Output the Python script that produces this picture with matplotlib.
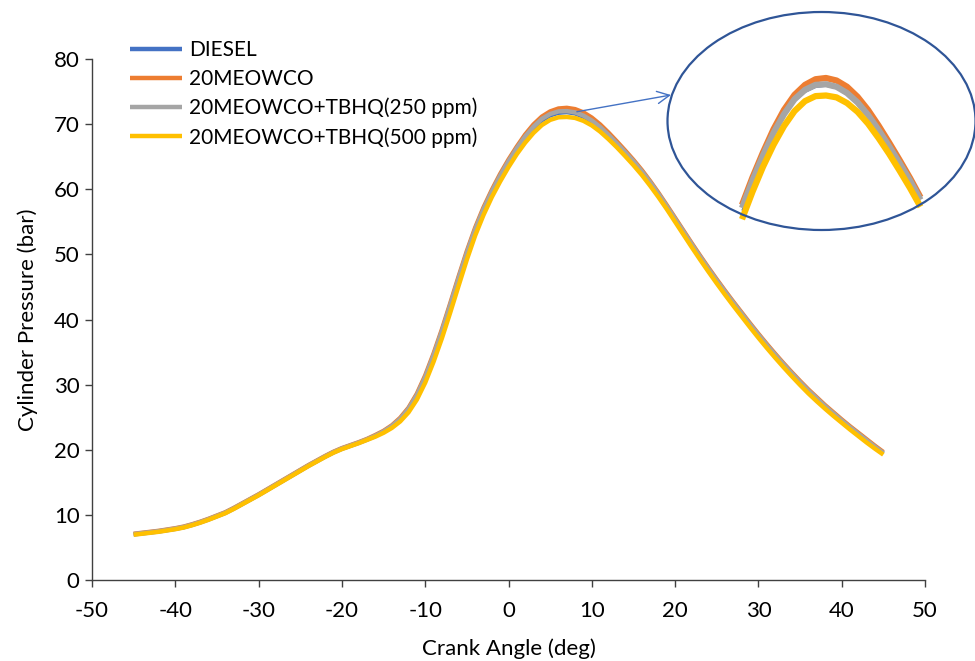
import matplotlib
matplotlib.use("Agg")
import matplotlib.pyplot as plt
from matplotlib.patches import Ellipse

plt.rcParams['font.family'] = ['Lato', 'DejaVu Sans']

crank_angle = list(range(-45, 46))

diesel = [7.00, 7.15, 7.30, 7.45, 7.65, 7.85, 8.10, 8.45, 8.85, 9.30,
          9.80, 10.30, 10.95, 11.65, 12.35, 13.05, 13.80, 14.55, 15.30, 16.05,
          16.80, 17.55, 18.25, 18.95, 19.60, 20.15, 20.60, 21.05, 21.55, 22.10,
          22.75, 23.55, 24.65, 26.15, 28.25, 31.00, 34.30, 38.00, 42.00, 46.10,
          50.10, 53.70, 56.80, 59.50, 61.90, 64.10, 66.10, 67.90, 69.40, 70.60,
          71.35, 71.75, 71.85, 71.65, 71.15, 70.40, 69.35, 68.15, 66.85, 65.50,
          64.10, 62.55, 60.90, 59.10, 57.20, 55.25, 53.30, 51.35, 49.45, 47.60,
          45.80, 44.05, 42.35, 40.70, 39.05, 37.45, 35.90, 34.40, 32.95, 31.55,
          30.20, 28.90, 27.70, 26.50, 25.40, 24.35, 23.30, 22.30, 21.30, 20.35,
          19.40]

meowco = [7.10, 7.25, 7.40, 7.55, 7.75, 7.95, 8.20, 8.55, 8.95, 9.40,
          9.90, 10.40, 11.05, 11.75, 12.45, 13.15, 13.90, 14.65, 15.40, 16.15,
          16.90, 17.65, 18.35, 19.05, 19.70, 20.25, 20.70, 21.15, 21.65, 22.25,
          22.90, 23.75, 24.90, 26.45, 28.60, 31.40, 34.75, 38.45, 42.45, 46.55,
          50.50, 54.10, 57.20, 59.90, 62.35, 64.55, 66.55, 68.40, 69.95, 71.15,
          71.95, 72.40, 72.50, 72.30, 71.80, 71.00, 69.95, 68.70, 67.35, 65.95,
          64.50, 62.95, 61.25, 59.45, 57.55, 55.60, 53.65, 51.70, 49.80, 47.95,
          46.15, 44.40, 42.70, 41.05, 39.40, 37.80, 36.25, 34.75, 33.30, 31.90,
          30.55, 29.25, 28.05, 26.85, 25.75, 24.65, 23.60, 22.60, 21.60, 20.60,
          19.65]

tbhq250 = [7.05, 7.20, 7.35, 7.50, 7.70, 7.90, 8.15, 8.50, 8.90, 9.35,
           9.85, 10.35, 11.00, 11.70, 12.40, 13.10, 13.85, 14.60, 15.35, 16.10,
           16.85, 17.60, 18.30, 19.00, 19.65, 20.20, 20.65, 21.10, 21.60, 22.15,
           22.80, 23.65, 24.75, 26.30, 28.40, 31.15, 34.50, 38.20, 42.20, 46.30,
           50.25, 53.85, 56.95, 59.65, 62.10, 64.30, 66.30, 68.10, 69.60, 70.80,
           71.55, 71.95, 72.00, 71.80, 71.30, 70.55, 69.55, 68.35, 67.05, 65.70,
           64.30, 62.75, 61.10, 59.30, 57.40, 55.45, 53.50, 51.55, 49.65, 47.80,
           46.00, 44.25, 42.55, 40.90, 39.25, 37.65, 36.10, 34.60, 33.15, 31.75,
           30.40, 29.10, 27.90, 26.70, 25.60, 24.50, 23.45, 22.45, 21.45, 20.45,
           19.50]

tbhq500 = [6.95, 7.10, 7.25, 7.40, 7.60, 7.80, 8.05, 8.40, 8.80, 9.25,
           9.75, 10.25, 10.90, 11.60, 12.30, 13.00, 13.75, 14.50, 15.25, 16.00,
           16.75, 17.50, 18.20, 18.90, 19.55, 20.10, 20.55, 21.00, 21.50, 22.00,
           22.60, 23.35, 24.35, 25.75, 27.70, 30.30, 33.50, 37.10, 41.05, 45.15,
           49.20, 52.90, 56.05, 58.80, 61.20, 63.40, 65.40, 67.15, 68.65, 69.85,
           70.65, 71.05, 71.10, 70.95, 70.50, 69.80, 68.85, 67.70, 66.45, 65.10,
           63.70, 62.20, 60.55, 58.80, 56.95, 55.00, 53.05, 51.10, 49.20, 47.35,
           45.55, 43.80, 42.10, 40.45, 38.80, 37.20, 35.65, 34.15, 32.70, 31.30,
           29.95, 28.65, 27.45, 26.30, 25.20, 24.15, 23.10, 22.10, 21.10, 20.15,
           19.25]

series_labels = ['DIESEL', '20MEOWCO', '20MEOWCO+TBHQ(250 ppm)', '20MEOWCO+TBHQ(500 ppm)']
series_values = [diesel, meowco, tbhq250, tbhq500]
series_colors = ['#4472C4', '#ED7D31', '#A5A5A5', '#FFC000']

x_ticks = [-50, -40, -30, -20, -10, 0, 10, 20, 30, 40, 50]
y_ticks = [0, 10, 20, 30, 40, 50, 60, 70, 80]
zoom_range = (-1, 16)

W, H = 975, 661
fig = plt.figure(figsize=(W / 100, H / 100), dpi=100)

ax = fig.add_axes([92 / W, 1 - 580 / H, 833 / W, 521 / H])
for lab, vals, col in zip(series_labels, series_values, series_colors):
    ax.plot(crank_angle, vals, color=col, lw=3.2, label=lab, solid_capstyle='butt')

ax.set_xlim(-50, 50)
ax.set_ylim(0, 80)
ax.set_xticks(x_ticks)
ax.set_yticks(y_ticks)
ax.set_xticklabels([f"{t}" for t in x_ticks])
for s in ['top', 'right']:
    ax.spines[s].set_visible(False)
for s in ['left', 'bottom']:
    ax.spines[s].set_color('#404040')
    ax.spines[s].set_linewidth(1.0)
ax.tick_params(axis='both', direction='out', length=5, width=1.0, color='#404040',
               labelsize=16, labelcolor='black')
ax.tick_params(axis='x', pad=10)
ax.tick_params(axis='y', pad=4)
ax.set_xlabel('Crank Angle (deg)', fontsize=16, labelpad=13)
ax.set_ylabel('Cylinder Pressure (bar)', fontsize=16, labelpad=11)

leg = ax.legend(loc='upper left', bbox_to_anchor=(0.036, 1.052), frameon=False,
                fontsize=15, handlelength=2.5, handletextpad=0.3, labelspacing=0.42,
                borderaxespad=0.0)

# Zoom ellipse
cx, cy, ew, eh = 821.5, 121, 308, 218
ell = Ellipse((cx / W, 1 - cy / H), ew / W, eh / H, transform=fig.transFigure,
              facecolor='none', edgecolor='#2F5597', lw=1.6)
fig.patches.append(ell)

# Inset axes with zoomed peak
ix0, ix1, iy0, iy1 = 668, 975, 12, 230
axi = fig.add_axes([ix0 / W, 1 - iy1 / H, (ix1 - ix0) / W, (iy1 - iy0) / H])
axi.axis('off')
i0 = crank_angle.index(zoom_range[0])
i1 = crank_angle.index(zoom_range[1]) + 1
inset_lw = [1.0, 4.5, 4.5, 4.5]
for vals, col, lw in zip(series_values, series_colors, inset_lw):
    axi.plot(crank_angle[i0:i1], vals[i0:i1], color=col, lw=lw, solid_capstyle='butt')
axi.set_xlim(7 - (826 - ix0) / 10.5, 7 + (ix1 - 826) / 10.5)
axi.set_ylim(72.5 - (iy1 - 78) / 12.5, 72.5 + (78 - iy0) / 12.5)

# Arrow from peak to ellipse
ax.annotate('', xy=(671 / W, 1 - 95 / H), xycoords='figure fraction',
            xytext=(8.2, 71.9), textcoords='data',
            arrowprops=dict(arrowstyle='->', color='#4472C4', lw=1.0,
                            mutation_scale=22, shrinkA=0, shrinkB=0))

fig.savefig('out.png', dpi=100)
